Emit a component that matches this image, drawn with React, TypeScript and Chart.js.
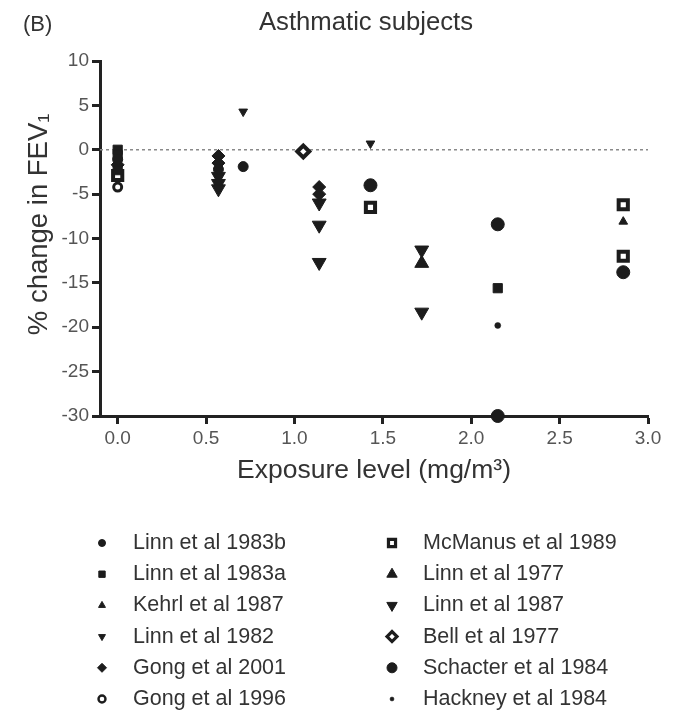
import React, { useEffect, useRef } from 'react';
import { Chart, registerables } from 'chart.js';
import { drawPoint } from 'chart.js/helpers';

Chart.register(...registerables);

const FONT = 'Arial, "Liberation Sans", Helvetica, sans-serif';

// ---------- texts ----------
const panelLabel = '(B)';
const chartTitle = 'Asthmatic subjects';
const xAxisTitle = 'Exposure level (mg/m³)';
const yAxisTitle = '% change in FEV₁';

// ---------- axes ----------
const xTicks = [0, 0.5, 1.0, 1.5, 2.0, 2.5, 3.0];
const yTicks = [-30, -25, -20, -15, -10, -5, 0, 5, 10];
const xMin = -0.1;
const xMax = 3.0;
const yMin = -30;
const yMax = 10;

// ---------- series (x = exposure mg/m3, y = % change in FEV1) ----------
const studies = [
  'Linn et al 1983b',
  'Linn et al 1983a',
  'Kehrl et al 1987',
  'Linn et al 1982',
  'Gong et al 2001',
  'Gong et al 1996',
  'McManus et al 1989',
  'Linn et al 1977',
  'Linn et al 1987',
  'Bell et al 1977',
  'Schacter et al 1984',
  'Hackney et al 1984',
];

const linn1983b = [[0, -1.1], [0.57, -2.2], [0.71, -1.9]];
const linn1983a = [[0, 0], [0, -0.6], [0, -2.3], [2.15, -15.6]];
const kehrl1987 = [[2.86, -8.1]];
const linn1982 = [[0.71, 4.3], [1.43, 0.7]];
const gong2001 = [[0, -1.7], [0.57, -0.7], [0.57, -1.5], [1.14, -4.2], [1.14, -5.0]];
const gong1996 = [[0, -4.2]];
const mcmanus1989 = [[0, -2.9], [1.43, -6.5], [2.86, -6.2], [2.86, -12.0]];
const linn1977 = [[1.72, -12.8]];
const linn1987 = [
  [0.57, -3.0], [0.57, -3.8], [0.57, -4.4],
  [1.14, -6.0], [1.14, -8.5], [1.14, -12.7],
  [1.72, -11.3], [1.72, -18.3],
];
const bell1977 = [[1.05, -0.2]];
const schacter1984 = [[1.43, -4.0], [2.15, -8.4], [2.15, -30], [2.86, -13.8]];
const hackney1984 = [[2.15, -19.8]];

const seriesPoints = [
  linn1983b, linn1983a, kehrl1987, linn1982, gong2001, gong1996,
  mcmanus1989, linn1977, linn1987, bell1977, schacter1984, hackney1984,
];

// ---------- marker styles ----------
const INK = '#1c1c1c';
const markers = [
  { shape: 'circle', rot: 0, r: 5, lr: 3.5, open: false, bw: 1 },
  { shape: 'rect', rot: 0, r: 6.5, lr: 4.5, open: false, bw: 1 },
  { shape: 'triangle', rot: 0, r: 5, lr: 4, open: false, bw: 1 },
  { shape: 'triangle', rot: 180, r: 5, lr: 4, open: false, bw: 1 },
  { shape: 'rectRot', rot: 0, r: 6.5, lr: 4.5, open: false, bw: 1 },
  { shape: 'circle', rot: 0, r: 4, lr: 3.5, open: true, bw: 3 },
  { shape: 'rect', rot: 0, r: 6.5, lr: 5, open: true, bw: 4 },
  { shape: 'triangle', rot: 0, r: 8, lr: 6, open: false, bw: 1 },
  { shape: 'triangle', rot: 180, r: 8, lr: 6, open: false, bw: 1 },
  { shape: 'rectRot', rot: 0, r: 6, lr: 5, open: true, bw: 4 },
  { shape: 'circle', rot: 0, r: 6.5, lr: 5, open: false, bw: 1 },
  { shape: 'circle', rot: 0, r: 3, lr: 2, open: false, bw: 0.5 },
];

const overlayPlugin = {
  id: 'overlayTexts',
  afterDraw(chart: any) {
    const ctx = chart.ctx as CanvasRenderingContext2D;
    const area = chart.chartArea;
    ctx.save();
    ctx.fillStyle = '#333';
    ctx.textBaseline = 'alphabetic';
    ctx.textAlign = 'left';
    ctx.font = `22px ${FONT}`;
    ctx.fillText(panelLabel, 23, 31);
    ctx.textAlign = 'center';
    ctx.font = `25.7px ${FONT}`;
    ctx.fillText(chartTitle, 366, 30);

    // y axis title (rotated)
    ctx.save();
    ctx.translate(39, area.top + (area.bottom - area.top) * 0.46);
    ctx.rotate(-Math.PI / 2);
    ctx.textBaseline = 'middle';
    ctx.textAlign = 'center';
    ctx.font = `27.5px ${FONT}`;
    ctx.fillText(yAxisTitle, 0, 0);
    ctx.restore();

    // legend: two columns of six
    const colMarkerX = [102, 392];
    const colTextX = [133, 423];
    const rowY0 = 543;
    const rowStep = 31.2;
    ctx.font = `21.5px ${FONT}`;
    ctx.textBaseline = 'middle';
    ctx.textAlign = 'left';
    studies.forEach((name, i) => {
      const col = i < 6 ? 0 : 1;
      const row = i % 6;
      const y = rowY0 + row * rowStep;
      const m = markers[i];
      ctx.fillStyle = m.open ? '#ffffff' : INK;
      ctx.strokeStyle = INK;
      ctx.lineWidth = m.open ? m.bw * 0.8 : m.bw;
      drawPoint(ctx, { pointStyle: m.shape, rotation: m.rot, radius: m.lr, borderWidth: m.bw } as any, colMarkerX[col], y);
      ctx.fillStyle = '#333';
      ctx.fillText(name, colTextX[col], y);
    });
    ctx.restore();
  },
};

export default function App() {
  const canvasRef = useRef<HTMLCanvasElement | null>(null);

  useEffect(() => {
    document.body.style.margin = '0';
    const canvas = canvasRef.current;
    if (!canvas) return;

    const studyDatasets = studies.map((name, i) => {
      const m = markers[i];
      return {
        label: name,
        data: seriesPoints[i].map(([x, y]) => ({ x, y })),
        pointStyle: m.shape,
        rotation: m.rot,
        pointRadius: m.r,
        pointBackgroundColor: m.open ? '#ffffff' : INK,
        pointBorderColor: INK,
        pointBorderWidth: m.bw,
        showLine: false,
        clip: false,
        order: 1,
      };
    });

    const zeroLine = {
      label: 'zero',
      data: [{ x: xMin, y: 0 }, { x: xMax, y: 0 }],
      showLine: true,
      borderColor: '#8a8a8a',
      borderWidth: 1.5,
      borderDash: [3, 3],
      pointRadius: 0,
      order: 100,
    };

    const chart = new Chart(canvas, {
      type: 'scatter',
      data: { datasets: [zeroLine as any, ...studyDatasets] },
      options: {
        animation: false,
        responsive: false,
        devicePixelRatio: 1,
        layout: { padding: { left: 0, right: 41, top: 61, bottom: 226 } },
        plugins: {
          legend: { display: false },
          title: { display: false },
          tooltip: { enabled: false },
        },
        scales: {
          x: {
            type: 'linear',
            min: xMin,
            max: xMax,
            afterBuildTicks: (s: any) => { s.ticks = xTicks.map((v) => ({ value: v })); },
            afterFit: (s: any) => { s.height = 72; },
            grid: { display: true, drawOnChartArea: false, drawTicks: true, tickLength: 8, tickWidth: 3, tickColor: '#222' },
            border: { display: true, width: 3, color: '#222' },
            ticks: {
              autoSkip: false,
              maxRotation: 0,
              padding: 3,
              color: '#555',
              font: { family: FONT, size: 19 },
              callback: (v: any) => Number(v).toFixed(1),
            },
            title: {
              display: true,
              text: xAxisTitle,
              color: '#333',
              font: { family: FONT, size: 26.5 },
              padding: { top: 0, bottom: 1 },
            },
          },
          y: {
            type: 'linear',
            min: yMin,
            max: yMax,
            afterBuildTicks: (s: any) => { s.ticks = yTicks.map((v) => ({ value: v })); },
            afterFit: (s: any) => { s.width = 100; },
            grid: { display: true, drawOnChartArea: false, drawTicks: true, tickLength: 8, tickWidth: 3, tickColor: '#222' },
            border: { display: true, width: 3, color: '#222' },
            ticks: {
              autoSkip: false,
              padding: 3,
              color: '#555',
              font: { family: FONT, size: 19 },
              callback: (v: any) => String(v),
            },
            title: { display: false },
          },
        },
      } as any,
      plugins: [overlayPlugin],
    });

    return () => chart.destroy();
  }, []);

  return (
    <div style={{ width: 689, height: 714, background: '#fff' }}>
      <canvas ref={canvasRef} width={689} height={714} style={{ display: 'block' }} />
    </div>
  );
}
